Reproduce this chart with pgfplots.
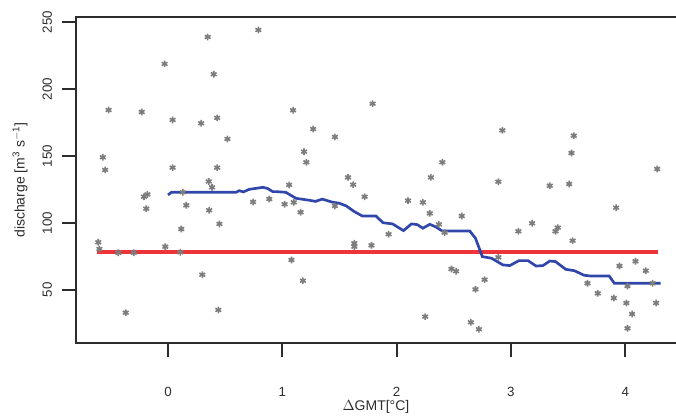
\documentclass[border=0pt]{standalone}
\usepackage{pgfplots}
\pgfplotsset{compat=1.18}
\usepackage{fontspec}
\setmainfont{Liberation Sans}
\definecolor{ptgray}{RGB}{125,125,125}
\definecolor{lnblue}{RGB}{48,70,170}
\definecolor{lnred}{RGB}{235,30,35}
\definecolor{axgray}{RGB}{45,45,45}
\begin{document}
\begin{tikzpicture}
\useasboundingbox (-57pt,-57.75pt) rectangle (450pt,257.25pt);
\begin{axis}[
  scale only axis, width=460pt, height=244.5pt,
  at={(0,0)}, anchor=south west,
  xmin=-0.805, xmax=4.561, ymin=10.45, ymax=253.7,
  axis line style={line width=1.5pt, color=axgray},
  xtick={0,1,2,3,4}, ytick={50,100,150,200,250},
  xtick pos=bottom, ytick pos=left,
  tick align=outside, major tick length=10.5pt,
  tick style={line width=1.5pt, draw=axgray},
  /pgf/number format/assume math mode=true,
  ticklabel style={font=\fontsize{10}{12}\selectfont, text=axgray},
  xticklabel style={anchor=center, yshift=-26pt},
  yticklabel style={rotate=90, anchor=center, yshift=11pt},
  xlabel={$\Delta$GMT[°C]},
  xlabel style={at={(rel axis cs:0.489,0)}, anchor=center, yshift=-48pt, font=\fontsize{10.5}{12}\selectfont, text=axgray},
  ylabel={discharge [m\textsuperscript{3} s\textsuperscript{$-$1}]},
  ylabel style={at={(rel axis cs:0,0.5)}, anchor=center, yshift=42pt, font=\fontsize{10.5}{12}\selectfont, text=axgray},
  clip=false,
]
\addplot[only marks, mark=asterisk, mark size=2.5pt, color=ptgray, mark options={line width=1.2pt}] coordinates {
(0.79,244)(0.347,238.8)(-0.03,218.7)(0.40,211)(-0.52,184.3)(-0.23,182.8)
(0.04,176.9)(0.29,174.4)(0.43,178.4)(0.52,162.7)(-0.57,149)(-0.55,139.6)
(0.04,141.3)(0.43,141.3)(0.356,131)(0.385,126.6)(-0.21,119.6)(-0.18,121.3)
(0.13,122.9)(0.744,115.7)(0.886,117.9)(-0.19,110.7)(0.16,113.2)(0.36,109.5)
(0.116,95.5)(0.45,99.3)(-0.61,85.6)(-0.60,80.6)(-0.024,82.3)(-0.435,77.8)
(-0.30,77.8)(0.108,78.1)(0.30,61.4)(-0.37,33.1)(0.44,35.1)(1.094,184.1)
(1.79,189)(1.27,170.1)(1.46,164.2)(1.19,153.2)(1.21,145.3)(2.40,145.3)
(1.575,134)(2.30,134)(2.925,169.1)(3.55,165.1)(3.53,152.2)(4.28,140.3)
(2.89,130.8)(1.06,128.4)(1.62,128.6)(1.02,114)(1.10,115.4)(1.16,108)
(1.72,119.6)(1.46,112.7)(2.10,116.7)(2.23,115.4)(2.29,107.2)(2.57,105.2)
(2.37,99)(2.42,92.8)(1.93,91.6)(1.63,84.9)(1.63,82.3)(1.78,83.3)
(1.08,72.4)(1.18,56.9)(2.48,65.7)(2.52,64)(2.69,50.5)(2.25,30.1)
(2.65,25.9)(3.34,127.8)(3.51,129.1)(3.92,111.4)(3.185,99.8)(3.065,93.8)
(3.39,93.8)(3.41,96.5)(3.54,86.8)(2.89,74.4)(2.77,57.7)(2.72,20.7)
(3.95,67.9)(4.09,71.4)(4.18,64.4)(3.67,55)(3.76,47.5)(3.90,44)
(4.01,40.3)(4.02,53)(4.24,55)(4.27,40.3)(4.06,32.1)(4.02,21.4)
};
\addplot[color=lnred, line width=2.4pt, opacity=0.9] coordinates {(-0.62,78.4)(4.29,78.4)};
\addplot[color=lnblue, line width=2pt] coordinates {
(0,120.9)(0.03,122.9)(0.595,122.9)(0.623,124.1)(0.66,123.2)(0.71,125.1)(0.83,126.6)
(0.87,125.8)(0.916,123.4)(0.945,123.4)(1.03,122.9)(1.12,118.4)(1.24,116.9)(1.29,116.1)
(1.35,117.8)(1.43,115.7)(1.50,114.7)(1.56,112.7)(1.63,108.5)(1.70,105.2)(1.82,105.2)
(1.88,100.2)(1.965,99.3)(2.06,94.3)(2.13,99.3)(2.18,98.8)(2.23,96.1)(2.29,99)
(2.34,97.2)(2.40,94)(2.64,94)(2.69,88.6)(2.75,74.9)(2.83,73.7)(2.93,68.7)(2.99,68.2)
(3.07,71.9)(3.15,71.9)(3.22,67.9)(3.28,68.2)(3.34,71.6)(3.39,71.2)(3.48,65.4)
(3.555,64.4)(3.64,61)(3.70,60.4)(3.86,60.4)(3.905,55)(4.31,55)
};
\end{axis}
\end{tikzpicture}
\end{document}
